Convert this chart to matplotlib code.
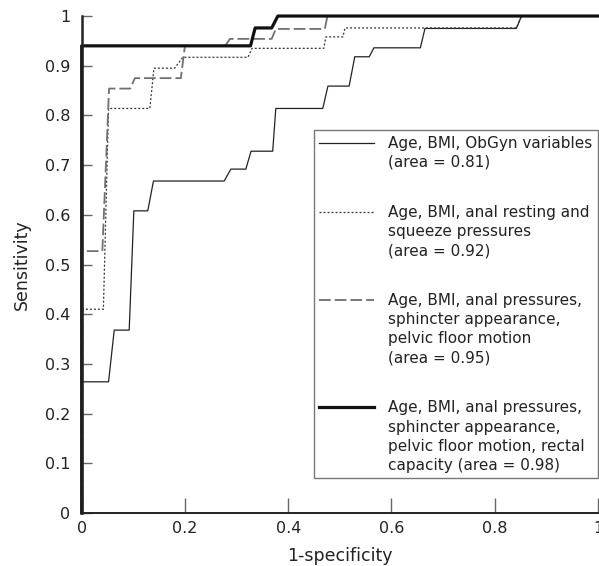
import matplotlib
matplotlib.use("Agg")
import matplotlib.pyplot as plt
import numpy as np
from matplotlib.legend_handler import HandlerLine2D

# ROC curves (1-specificity, sensitivity)
fpr_obgyn = [0, 0, 0.052, 0.063, 0.092, 0.101, 0.128, 0.139, 0.276, 0.289, 0.318, 0.328,
             0.370, 0.376, 0.467, 0.477, 0.518, 0.529, 0.557, 0.566, 0.656, 0.665, 0.842, 0.852, 1.0]
tpr_obgyn = [0, 0.264, 0.264, 0.368, 0.368, 0.608, 0.608, 0.668, 0.668, 0.692, 0.692, 0.728,
             0.728, 0.814, 0.814, 0.859, 0.859, 0.918, 0.918, 0.936, 0.936, 0.975, 0.975, 1.0, 1.0]

fpr_press = [0, 0, 0.042, 0.052, 0.132, 0.140, 0.180, 0.196, 0.322, 0.330, 0.469, 0.473,
             0.506, 0.510, 0.842, 0.852, 1.0]
tpr_press = [0, 0.41, 0.41, 0.814, 0.814, 0.895, 0.895, 0.917, 0.917, 0.935, 0.935, 0.958,
             0.958, 0.976, 0.976, 1.0, 1.0]

fpr_pelvic = [0, 0, 0.040, 0.053, 0.094, 0.103, 0.192, 0.200, 0.278, 0.287, 0.368, 0.376,
              0.471, 0.476, 1.0]
tpr_pelvic = [0, 0.527, 0.527, 0.854, 0.854, 0.875, 0.875, 0.940, 0.940, 0.954, 0.954, 0.974,
              0.974, 1.0, 1.0]

fpr_rectal = [0, 0, 0.327, 0.336, 0.368, 0.380, 1.0]
tpr_rectal = [0, 0.940, 0.940, 0.976, 0.976, 1.0, 1.0]

labels = [
    "Age, BMI, ObGyn variables\n(area = 0.81)",
    "Age, BMI, anal resting and\nsqueeze pressures\n(area = 0.92)",
    "Age, BMI, anal pressures,\nsphincter appearance,\npelvic floor motion\n(area = 0.95)",
    "Age, BMI, anal pressures,\nsphincter appearance,\npelvic floor motion, rectal\ncapacity (area = 0.98)",
]

FS = 11.5
LEG_FS = 11
LINE_STEP = 14.4  # points between text lines in legend labels


class TopLine(HandlerLine2D):
    # put the sample line next to the first line of a multi-line label
    def __init__(self, nlines, **kw):
        super().__init__(**kw)
        self.shift = (nlines - 1) / 2 * LINE_STEP

    def create_artists(self, legend, orig_handle, xdescent, ydescent, width, height,
                       fontsize, trans):
        arts = super().create_artists(legend, orig_handle, xdescent, ydescent, width,
                                      height, fontsize, trans)
        for a in arts:
            a.set_ydata(np.asarray(a.get_ydata()) + self.shift)
        return arts


plt.rcParams['font.family'] = ['DejaVu Sans']

fig = plt.figure(figsize=(5.99, 5.66), dpi=100)
ax = fig.add_axes([0.1364, 0.0936, 0.8618, 0.8781])

l1, = ax.plot(fpr_obgyn, tpr_obgyn, color='#222222', lw=0.9, clip_on=False)
l2, = ax.plot(fpr_press, tpr_press, color='#333333', lw=0.9, ls=(0, (1.6, 1.6)), clip_on=False)
l3, = ax.plot(fpr_pelvic, tpr_pelvic, color='#707070', lw=1.3, ls=(0, (6.5, 2.2)), clip_on=False)
l4, = ax.plot(fpr_rectal, tpr_rectal, color='#111111', lw=2.3, clip_on=False)

ax.set_xlim(0, 1)
ax.set_ylim(0, 1)
ax.set_xticks(np.arange(0, 1.01, 0.2))
ax.set_xticklabels(['0', '0.2', '0.4', '0.6', '0.8', '1'])
ax.set_yticks(np.arange(0, 1.01, 0.1))
ax.set_yticklabels(['0'] + ['%.1f' % v for v in np.arange(0.1, 0.95, 0.1)] + ['1'])

for s in ['top', 'right']:
    ax.spines[s].set_visible(False)
ax.spines['left'].set_linewidth(1.8)
ax.spines['bottom'].set_linewidth(1.4)
ax.spines['left'].set_color('#222222')
ax.spines['bottom'].set_color('#222222')

ax.tick_params(axis='y', direction='in', length=7, width=1, color='#666666',
               labelsize=FS, pad=8, labelcolor='#222222')
ax.tick_params(axis='x', direction='in', length=11, width=1, color='#666666',
               labelsize=FS, pad=6, labelcolor='#222222')

ax.set_xlabel('1-specificity', fontsize=FS + 1, color='#222222', labelpad=8)
ax.set_ylabel('Sensitivity', fontsize=FS + 1, color='#222222', labelpad=10)

handler_map = {l1: TopLine(2), l2: TopLine(3), l3: TopLine(4), l4: TopLine(4)}
leg = ax.legend([l1, l2, l3, l4], labels, loc='upper left', bbox_to_anchor=(0.45, 0.77),
                fontsize=LEG_FS, handlelength=3.6, handletextpad=0.9, labelspacing=2.28,
                borderpad=0.35, borderaxespad=0, fancybox=False, frameon=True,
                handler_map=handler_map)
leg.get_frame().set_edgecolor('#555555')
leg.get_frame().set_linewidth(1.0)
for t in leg.get_texts():
    t.set_color('#222222')
    t.set_linespacing(1.35)

fig.savefig('out.png', dpi=100)
